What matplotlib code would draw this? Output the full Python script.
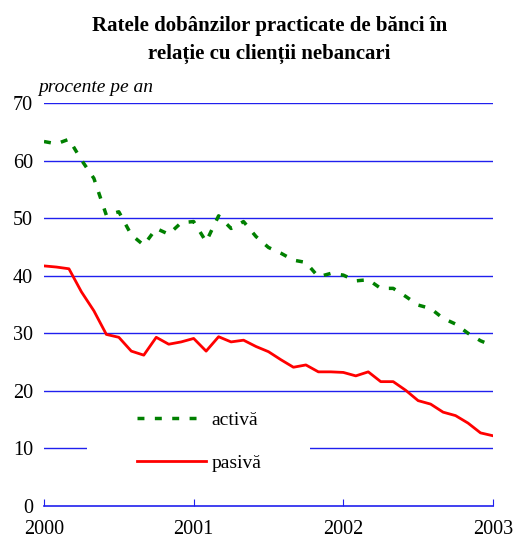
import matplotlib.pyplot as plt
import numpy as np
from matplotlib.patches import Rectangle

# monthly data, Jan 2000 - Jan 2003
months = np.arange(37)
activa = [63.3, 62.9, 63.7, 60.1, 56.9, 50.5, 51.1, 47.1, 45.3, 48.2, 47.2, 49.2,
          49.4, 45.9, 50.4, 48.2, 49.4, 46.8, 44.9, 43.9, 42.7, 42.3, 39.8, 40.4,
          40.1, 39.1, 39.3, 37.8, 37.8, 36.4, 34.9, 34.3, 32.6, 31.6, 30.0, 28.7,
          27.8]
pasiva = [41.7, 41.5, 41.2, 37.2, 33.9, 29.8, 29.3, 26.9, 26.2, 29.3, 28.1, 28.5,
          29.1, 26.9, 29.4, 28.5, 28.8, 27.7, 26.8, 25.4, 24.1, 24.5, 23.3, 23.3,
          23.2, 22.6, 23.3, 21.6, 21.6, 20.1, 18.3, 17.7, 16.3, 15.7, 14.4, 12.7,
          12.2]
year_ticks = [0, 12, 24, 36]
year_labels = ["2000", "2001", "2002", "2003"]
y_ticks = [0, 10, 20, 30, 40, 50, 60, 70]

plt.rcParams['font.family'] = ['Liberation Serif', 'DejaVu Serif']

fig = plt.figure(figsize=(5.14, 5.39), dpi=100)
ax = fig.add_axes([0.0856, 0.0612, 0.8735, 0.7478])

for v in y_ticks[1:]:
    ax.axhline(v, color='#2020ee', linewidth=1, zorder=1)

# white legend background (hides part of the grid like the original)
ax.add_patch(Rectangle((0.096, 0.03), 0.497, 0.22, transform=ax.transAxes,
                       facecolor='white', edgecolor='none', zorder=2))

ax.plot(months, activa, color='#008000', linewidth=2.5, dashes=(2.0, 3.0),
        label='activă', zorder=3)
ax.plot(months, pasiva, color='#ff0000', linewidth=2, label='pasivă', zorder=3)

ax.set_xlim(0, 36)
ax.set_ylim(0, 70)
ax.set_xticks(year_ticks)
ax.set_xticklabels(year_labels)
ax.set_yticks(y_ticks)

for s in ['left', 'right', 'top']:
    ax.spines[s].set_visible(False)
ax.spines['bottom'].set_color('#2020ee')
ax.spines['bottom'].set_linewidth(1.2)
ax.tick_params(axis='x', direction='in', length=5, color='#2020ee', labelsize=14.5, pad=10)
ax.tick_params(axis='y', length=0, labelsize=14.5, pad=8)

leg = ax.legend(loc='center left', bbox_to_anchor=(0.208, 0.16), frameon=False,
                fontsize=14, handlelength=3.55, handletextpad=0.25, labelspacing=1.3,
                borderpad=0, borderaxespad=0)
leg.set_zorder(4)

fig.text(0.524, 0.951, "Ratele dobânzilor practicate de bănci în", ha='center', va='center',
         fontsize=15, fontweight='bold')
fig.text(0.524, 0.900, "relație cu clienții nebancari", ha='center', va='center',
         fontsize=15, fontweight='bold')
fig.text(0.074, 0.838, "procente pe an", ha='left', va='center', fontsize=14, style='italic')

fig.savefig('out.png', dpi=100)
